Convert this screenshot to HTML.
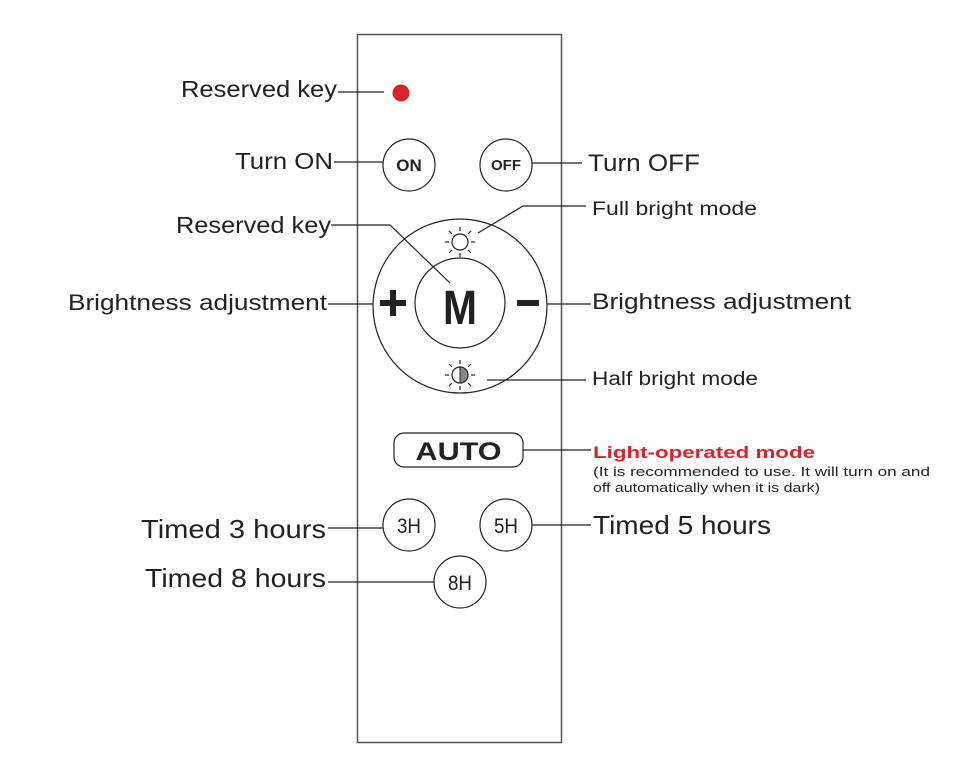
<!DOCTYPE html>
<html><head><meta charset="utf-8"><style>
html,body{margin:0;padding:0;background:#fff;}
svg{display:block;}
text{font-family:"Liberation Sans",Arial,sans-serif;fill:#222;}
</style></head><body>
<svg width="972" height="759" viewBox="0 0 972 759" xmlns="http://www.w3.org/2000/svg">
<rect x="357.5" y="34.5" width="204" height="708" fill="#fff" stroke="#555" stroke-width="1.5"/>
<g stroke="#222" stroke-width="1.2" fill="none">
<line x1="338" y1="92" x2="384" y2="92"/>
<line x1="334" y1="162" x2="383" y2="162"/>
<line x1="532" y1="163" x2="582" y2="163"/>
<polyline points="478,233 523,206 586,206"/>
<polyline points="331,225 390,225 450,283"/>
<line x1="328" y1="304" x2="373" y2="304"/>
<line x1="547" y1="304" x2="591" y2="304"/>
<line x1="487" y1="380" x2="586" y2="380"/>
<line x1="523" y1="450" x2="591" y2="450"/>
<line x1="328" y1="528" x2="383" y2="528"/>
<line x1="532" y1="525" x2="591" y2="525"/>
<line x1="328" y1="582" x2="434" y2="582"/>
<circle cx="409" cy="165" r="26"/>
<circle cx="506" cy="165" r="26"/>
<circle cx="460" cy="306" r="87"/>
<circle cx="460" cy="303" r="45"/>
<rect x="394" y="433" width="129" height="34" rx="10"/>
<circle cx="409" cy="525" r="26"/>
<circle cx="506" cy="525" r="26"/>
<circle cx="460" cy="582" r="26"/>
</g>
<circle cx="401" cy="93" r="8.5" fill="#d8232a"/>
<g stroke="#222" stroke-width="1.2" fill="none">
<circle cx="460" cy="242" r="8"/>
<g>
<line x1="460" y1="231" x2="460" y2="227"/>
<line x1="460" y1="253" x2="460" y2="257"/>
<line x1="449" y1="242" x2="445" y2="242"/>
<line x1="471" y1="242" x2="475" y2="242"/>
<line x1="452" y1="234" x2="449" y2="231"/>
<line x1="468" y1="234" x2="471" y2="231"/>
<line x1="452" y1="250" x2="449" y2="253"/>
<line x1="468" y1="250" x2="471" y2="253"/>
</g>
<circle cx="460" cy="375" r="8"/>
<g transform="translate(0,133)">
<line x1="460" y1="231" x2="460" y2="227"/>
<line x1="460" y1="253" x2="460" y2="257"/>
<line x1="449" y1="242" x2="445" y2="242"/>
<line x1="471" y1="242" x2="475" y2="242"/>
<line x1="452" y1="234" x2="449" y2="231"/>
<line x1="468" y1="234" x2="471" y2="231"/>
<line x1="452" y1="250" x2="449" y2="253"/>
<line x1="468" y1="250" x2="471" y2="253"/>
</g>
</g>
<path d="M460 367 A8 8 0 0 1 460 383 Z" fill="#888" stroke="#222" stroke-width="1"/>
<rect x="380" y="300" width="26" height="6" fill="#222"/>
<rect x="390" y="290" width="6" height="26" fill="#222"/>
<rect x="517" y="300" width="22" height="6" fill="#222"/>
<text x="409" y="171" font-size="17" font-weight="bold" text-anchor="middle">ON</text>
<text x="506" y="170" font-size="15" font-weight="bold" text-anchor="middle">OFF</text>
<text x="460" y="324" font-size="48" font-weight="bold" text-anchor="middle" textLength="34" lengthAdjust="spacingAndGlyphs">M</text>
<text x="458.5" y="460" font-size="25" font-weight="bold" text-anchor="middle" textLength="86" lengthAdjust="spacingAndGlyphs">AUTO</text>
<text x="409" y="533" font-size="21" text-anchor="middle" textLength="24" lengthAdjust="spacingAndGlyphs">3H</text>
<text x="506" y="533" font-size="21" text-anchor="middle" textLength="24" lengthAdjust="spacingAndGlyphs">5H</text>
<text x="460" y="590" font-size="21" text-anchor="middle" textLength="24" lengthAdjust="spacingAndGlyphs">8H</text>
<text x="181" y="97" font-size="23" textLength="156" lengthAdjust="spacingAndGlyphs">Reserved key</text>
<text x="235" y="169" font-size="23" textLength="98" lengthAdjust="spacingAndGlyphs">Turn ON</text>
<text x="588" y="171" font-size="24" textLength="112" lengthAdjust="spacingAndGlyphs">Turn OFF</text>
<text x="592" y="215" font-size="19" textLength="165" lengthAdjust="spacingAndGlyphs">Full bright mode</text>
<text x="176" y="233" font-size="23" textLength="155" lengthAdjust="spacingAndGlyphs">Reserved key</text>
<text x="68" y="310" font-size="22" textLength="259" lengthAdjust="spacingAndGlyphs">Brightness adjustment</text>
<text x="592" y="309" font-size="22" textLength="259" lengthAdjust="spacingAndGlyphs">Brightness adjustment</text>
<text x="592" y="385" font-size="19" textLength="166" lengthAdjust="spacingAndGlyphs">Half bright mode</text>
<text x="593" y="458" font-size="17" font-weight="bold" style="fill:#d8232a" textLength="222" lengthAdjust="spacingAndGlyphs">Light-operated mode</text>
<text x="593" y="476" font-size="13" textLength="337" lengthAdjust="spacingAndGlyphs">(It is recommended to use. It will turn on and</text>
<text x="593" y="492" font-size="13" textLength="227" lengthAdjust="spacingAndGlyphs">off automatically when it is dark)</text>
<text x="141" y="538" font-size="26" textLength="185" lengthAdjust="spacingAndGlyphs">Timed 3 hours</text>
<text x="593" y="534" font-size="26" textLength="178" lengthAdjust="spacingAndGlyphs">Timed 5 hours</text>
<text x="145" y="587" font-size="26" textLength="181" lengthAdjust="spacingAndGlyphs">Timed 8 hours</text>
</svg>
</body></html>
